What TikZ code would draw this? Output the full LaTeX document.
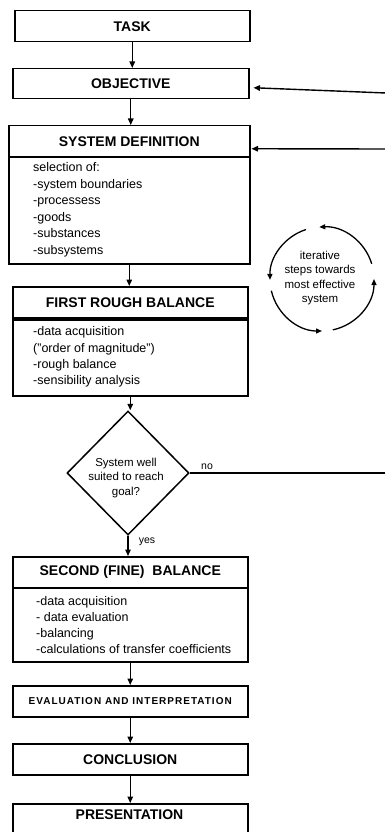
\documentclass[tikz,border=0pt]{standalone}
\usepackage{fontspec}
\setmainfont{Liberation Sans}
\usetikzlibrary{arrows.meta,shapes.geometric,calc}

\begin{document}
\begin{tikzpicture}[x=1pt,y=1pt,
  box/.style={draw, line width=1.5pt, inner sep=0pt, anchor=north west},
  head/.style={font=\fontsize{14}{16}\selectfont\bfseries},
  smallhead/.style={font=\fontsize{10}{12}\selectfont\bfseries\addfontfeatures{LetterSpace=10}},
  listtext/.style={align=left, inner sep=0pt, anchor=west, font=\fontsize{12.5}{16.5}\selectfont},
  note/.style={align=center, inner sep=0pt, font=\fontsize{11.5}{14.6}\selectfont},
  tag/.style={inner sep=0pt, font=\fontsize{10.5}{12}\selectfont},
  flow/.style={line width=1.4pt, -{Triangle[length=6.5pt,width=5.5pt]}},
  plain/.style={line width=1.4pt},
  cyc/.style={line width=1.3pt, -{Triangle[length=6pt,width=5pt]}}
]
\useasboundingbox (0,0) rectangle (385,-832);
\clip (0,0) rectangle (385,-832);

% main column of steps
\node[box, minimum width=235pt, minimum height=31pt, head] (task) at (14,-10) {TASK};
\node[box, minimum width=236pt, minimum height=30pt, head] (obj) at (12,-68) {OBJECTIVE};

\node[box, minimum width=241pt, minimum height=31pt, head] (sdh) at (8,-125) {SYSTEM DEFINITION};
\node[box, minimum width=241pt, minimum height=107pt] (sdb) at (8,-156) {};
\node[listtext] (sdt) at (33,-210) {selection of:\\-system boundaries\\-processess\\-goods\\-substances\\-subsystems};

\node[box, minimum width=235pt, minimum height=31pt, head] (frbh) at (12,-286) {FIRST ROUGH BALANCE};
\node[box, minimum width=235pt, minimum height=76pt] (frbb) at (12,-319) {};
\node[listtext, font=\fontsize{12.5}{16.2}\selectfont] (frbt) at (33,-357) {-data acquisition\\("order of magnitude")\\-rough balance\\-sensibility analysis};

\node[draw, diamond, aspect=1, line width=1.5pt, minimum width=122pt, minimum height=124pt, inner sep=0pt] (dec) at (128,-473) {};
\node[note] (dect) at (126,-478) {System well\\suited to reach\\goal?};

\node[box, minimum width=235pt, minimum height=31pt, head] (sfbh) at (12,-556) {SECOND (FINE)\ \ BALANCE};
\node[box, minimum width=235pt, minimum height=74pt] (sfbb) at (12,-587) {};
\node[listtext, font=\fontsize{12.5}{16}\selectfont] (sfbt) at (36,-625) {-data acquisition\\- data evaluation\\-balancing\\-calculations of transfer coefficients};

\node[box, minimum width=235pt, minimum height=31pt, smallhead] (eval) at (12,-685) {EVALUATION AND INTERPRETATION};
\node[box, minimum width=235pt, minimum height=31pt, head] (conc) at (12,-743) {CONCLUSION};
\node[box, minimum width=235pt, minimum height=40pt] (pres) at (12,-803) {};
\node[head, inner sep=0pt] (prest) at (129.5,-815) {PRESENTATION};

% connectors down the column
\draw[flow] (task.south) -- (task.south |- obj.north);
\draw[flow] (obj.south) -- (obj.south |- sdh.north);
\draw[flow] (sdb.south) -- (sdb.south |- frbh.north);
\draw[flow] (frbb.south) -- (frbb.south |- dec.north);
\draw[flow] (dec.south) -- (dec.south |- sfbh.north);
\draw[flow] (sfbb.south) -- (sfbb.south |- eval.north);
\draw[flow] (eval.south) -- (eval.south |- conc.north);
\draw[flow] (conc.south) -- (conc.south |- pres.north);

\node[tag] (yes) at (147,-542) {yes};
\node[tag] (no) at (207,-467) {no};

% feedback lines from the right
\coordinate (fbobj) at (386,-93);
\coordinate (fbsd) at (386,-149);
\coordinate (fbno) at (386,-473);
\draw[flow] (fbobj) -- ($(obj.east)+(4,-4)$);
\draw[flow] (fbsd) -- ($(sdh.east)+(1,-7.5)$);
\draw[plain] (dec.east) -- (fbno);

% iteration cycle
\coordinate (cc) at (322,-279);
\draw[cyc] ([shift={(17:52)}]cc) arc[start angle=17, end angle=93, radius=52];
\draw[cyc] ([shift={(108:52)}]cc) arc[start angle=108, end angle=181, radius=52];
\draw[cyc] ([shift={(193:52)}]cc) arc[start angle=193, end angle=270, radius=52];
\draw[cyc] ([shift={(282:52)}]cc) arc[start angle=282, end angle=360, radius=52];
\node[note] (cyct) at (320,-278) {iterative\\steps towards\\most effective\\system};
\end{tikzpicture}
\end{document}
